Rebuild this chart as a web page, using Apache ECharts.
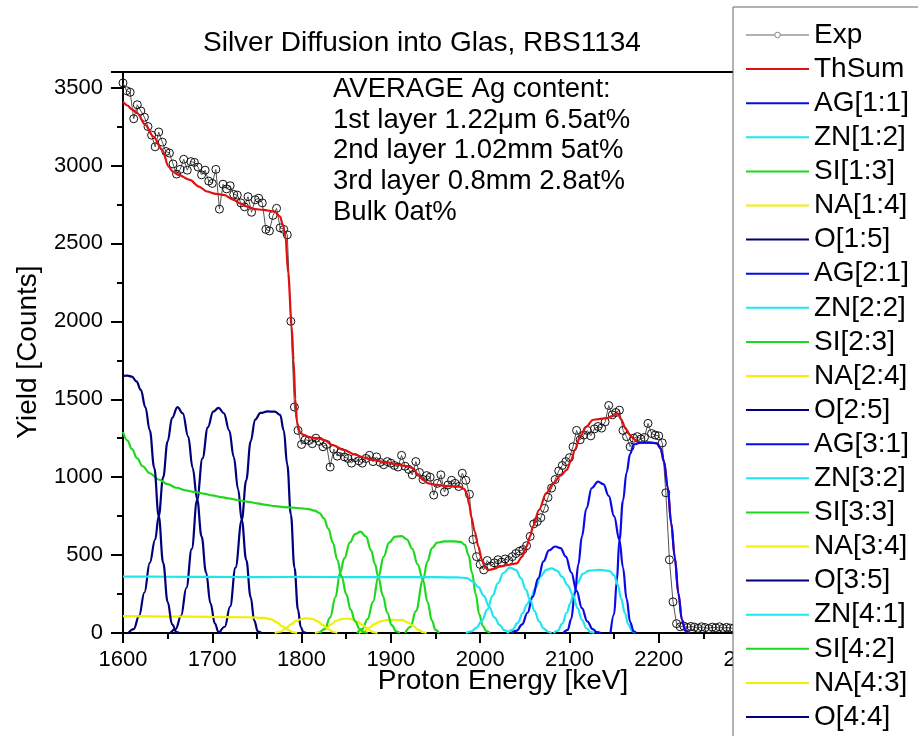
<!DOCTYPE html>
<html>
<head>
<meta charset="utf-8">
<script src="https://cdn.jsdelivr.net/npm/echarts@6/dist/echarts.min.js"></script>
<style>
html,body{margin:0;padding:0;background:#fff;}
#chart{width:918px;height:736px;}
</style>
</head>
<body>
<div id="chart"></div>
<script>
// ---------- DATA ----------
const xTicks = [1600, 1700, 1800, 1900, 2000, 2100, 2200, 2300];
const yTicks = [0, 500, 1000, 1500, 2000, 2500, 3000, 3500];

// Experimental spectrum: channel energies start at expStart keV, one channel every expStep keV
const expStart = 1600;
const expStep = 4;
const expCounts = [
  3530, 3480, 3470, 3300, 3390, 3350, 3310, 3250, 3195, 3120,
  3215, 3150, 3090, 3080, 3010, 2945, 2975, 3040, 2970, 3025,
  3020, 2990, 2940, 2970, 2900, 2885, 2975, 2720, 2880, 2850,
  2870, 2815, 2810, 2760, 2735, 2800, 2700, 2780, 2790, 2760,
  2590, 2580, 2680, 2725, 2600, 2590, 2555, 2000, 1450, 1300,
  1210, 1240, 1235, 1215, 1250, 1230, 1195, 1210, 1065, 1180,
  1135, 1160, 1130, 1120, 1090, 1125, 1105, 1090, 1120, 1140,
  1100, 1130, 1095, 1080, 1100, 1090, 1075, 1065, 1140, 1070,
  1050, 1015, 1100, 1030, 985, 1010, 1000, 885, 960, 1015,
  905, 950, 980, 960, 940, 1025, 980, 890, 600, 490,
  440, 405, 465, 430, 450, 470, 455, 475, 465, 490,
  510, 525, 535, 560, 620, 700, 715, 740, 800, 870,
  930, 985, 1040, 1075, 1100, 1125, 1195, 1300, 1240, 1270,
  1300, 1265, 1310, 1325, 1315, 1355, 1460, 1400, 1415, 1430,
  1300, 1260, 1195, 1250, 1260, 1245, 1255, 1345, 1280, 1270,
  1265, 1220, 900, 470, 200, 60, 40, 45, 35, 42,
  38, 30, 40, 35, 28, 38, 33, 40, 30, 36,
  32, 30
];

const thSum = [[1600,3410],[1605,3385],[1610,3360],[1616,3336],[1625,3260],[1634,3186],[1644,3100],[1651,2993],[1656,2960],[1662,2940],[1675,2908],[1685,2865],[1694,2833],[1704,2818],[1713,2811],[1724,2779],[1732,2755],[1739,2736],[1748,2720],[1757,2715],[1770,2704],[1776,2672],[1779,2620],[1782,2544],[1785,2309],[1789,1966],[1791,1752],[1793,1500],[1795,1350],[1798,1290],[1802,1271],[1810,1255],[1818,1250],[1825,1239],[1835,1205],[1847,1175],[1860,1145],[1870,1125],[1880,1110],[1895,1095],[1910,1078],[1918,1070],[1925,1057],[1930,1020],[1936,982],[1942,960],[1951,950],[1965,942],[1977,939],[1982,925],[1985,897],[1988,820],[1990,747],[1994,650],[1998,554],[2002,470],[2005,426],[2009,404],[2015,412],[2022,426],[2030,435],[2041,447],[2047,490],[2052,554],[2056,620],[2059,682],[2066,790],[2074,897],[2082,960],[2090,1010],[2097,1046],[2102,1110],[2106,1175],[2112,1260],[2119,1324],[2126,1367],[2133,1373],[2141,1378],[2148,1392],[2154,1410],[2158,1370],[2163,1310],[2168,1271],[2172,1245],[2176,1228],[2180,1222],[2190,1222],[2198,1217],[2202,1185],[2206,1100],[2210,935],[2214,705],[2218,485],[2222,255],[2226,85],[2230,15],[2235,2]];

// Layer 1 (surface)
const AG_1_1 = [[2146,0],[2150,120],[2153,330],[2156,597],[2160,850],[2164,1030],[2168,1150],[2172,1210],[2180,1222],[2190,1222],[2198,1217],[2202,1185],[2206,1100],[2210,935],[2214,705],[2218,485],[2222,255],[2226,85],[2230,15],[2234,0]];
const ZN_1_2 = [[2082,0],[2087,15],[2092,60],[2097,130],[2101,190],[2104,244],[2109,320],[2115,380],[2122,400],[2134,405],[2145,398],[2150,370],[2154,310],[2158,220],[2162,130],[2166,55],[2170,12],[2174,0]];
const SI_1_3 = [[1916,0],[1922,40],[1928,140],[1936,340],[1941,460],[1946,545],[1952,580],[1960,588],[1970,588],[1978,585],[1983,565],[1987,500],[1991,385],[1995,250],[1999,120],[2003,45],[2007,12],[2011,0]];
const NA_1_4 = [[1864,0],[1870,12],[1876,35],[1882,58],[1888,75],[1895,83],[1905,85],[1913,82],[1919,68],[1925,45],[1931,20],[1936,5],[1940,0]];
const O_1_5 = [[1708,0],[1714,40],[1720,170],[1726,420],[1733,725],[1738,980],[1743,1230],[1748,1370],[1754,1412],[1762,1422],[1770,1420],[1776,1400],[1780,1300],[1784,1080],[1788,760],[1792,420],[1796,150],[1799,40],[1802,5],[1805,0]];
// Layer 2
const AG_2_1 = [[2093,0],[2098,20],[2102,90],[2106,250],[2110,440],[2114,620],[2119,800],[2125,930],[2132,972],[2138,955],[2144,880],[2150,750],[2156,597],[2160,420],[2164,220],[2168,70],[2172,10],[2175,0]];
const ZN_2_2 = [[2030,0],[2036,20],[2042,65],[2048,130],[2052,180],[2056,212],[2062,290],[2068,365],[2074,405],[2080,415],[2086,400],[2092,360],[2098,305],[2104,244],[2109,160],[2114,85],[2119,30],[2124,5],[2128,0]];
const SI_2_3 = [[1862,0],[1868,25],[1874,90],[1880,200],[1886,360],[1892,490],[1898,580],[1905,618],[1912,622],[1918,600],[1924,540],[1930,440],[1936,340],[1941,200],[1946,80],[1950,20],[1954,0]];
const NA_2_4 = [[1815,0],[1821,8],[1827,28],[1833,55],[1839,78],[1845,90],[1851,93],[1857,88],[1863,72],[1869,48],[1875,22],[1880,6],[1885,0]];
const O_2_5 = [[1653,0],[1659,25],[1665,110],[1671,290],[1677,540],[1683,855],[1689,1120],[1695,1320],[1701,1420],[1707,1445],[1713,1410],[1719,1300],[1724,1130],[1729,920],[1733,725],[1738,470],[1743,230],[1747,80],[1751,10],[1755,0]];
// Layer 3
const AG_3_1 = [[2035,0],[2041,15],[2047,55],[2053,130],[2059,233],[2065,350],[2071,460],[2077,530],[2084,555],[2090,545],[2096,490],[2102,390],[2108,270],[2114,160],[2120,75],[2126,25],[2131,5],[2135,0]];
const ZN_3_2 = [[1984,0],[1990,10],[1996,35],[2002,80],[2008,150],[2014,240],[2020,320],[2026,385],[2033,420],[2040,405],[2046,350],[2051,280],[2056,212],[2061,140],[2066,75],[2071,30],[2076,8],[2080,0]];
const SI_3_3 = [[1820,0],[1826,25],[1832,100],[1838,230],[1843,385],[1848,480],[1854,580],[1860,635],[1866,650],[1872,620],[1878,530],[1882,445],[1886,360],[1891,240],[1896,130],[1901,50],[1906,10],[1910,0]];
const NA_3_4 = [[1770,0],[1776,8],[1782,28],[1788,55],[1794,78],[1800,90],[1806,94],[1812,90],[1818,75],[1824,50],[1830,25],[1835,8],[1840,0]];
const O_3_5 = [[1606,0],[1612,25],[1618,110],[1624,260],[1630,450],[1636,600],[1640,750],[1645,1000],[1650,1230],[1655,1380],[1661,1450],[1667,1410],[1673,1260],[1678,1060],[1683,860],[1688,620],[1693,390],[1698,190],[1703,60],[1707,5],[1710,0]];
// Layer 4 (bulk)
const ZN_4_1 = [[1600,362],[1650,361],[1700,360],[1750,359],[1800,360],[1850,359],[1900,358],[1950,358],[1975,357],[1985,352],[1992,330],[1998,295],[2004,240],[2010,170],[2016,100],[2022,50],[2027,18],[2032,0]];
const SI_4_2 = [[1600,1290],[1605,1235],[1610,1180],[1616,1120],[1622,1070],[1630,1025],[1640,985],[1650,955],[1660,932],[1670,915],[1680,905],[1690,895],[1700,883],[1710,872],[1720,862],[1730,852],[1740,842],[1750,832],[1760,822],[1770,814],[1780,808],[1790,804],[1800,800],[1808,795],[1815,785],[1820,770],[1825,735],[1830,670],[1835,580],[1840,470],[1845,360],[1850,250],[1855,150],[1860,75],[1865,25],[1870,5],[1874,0]];
const NA_4_3 = [[1600,108],[1650,106],[1700,104],[1740,101],[1758,97],[1766,88],[1772,70],[1778,45],[1784,22],[1790,6],[1795,0]];
const O_4_4 = [[1600,1650],[1605,1652],[1610,1645],[1615,1615],[1620,1560],[1625,1450],[1630,1300],[1635,1060],[1640,750],[1645,450],[1650,200],[1655,55],[1660,5],[1663,0]];

const titleText = 'Silver Diffusion into Glas, RBS1134';
const xTitle = 'Proton Energy [keV]';
const yTitle = 'Yield [Counts]';
const noteLines = ['AVERAGE Ag content:', '1st layer 1.22\u03bcm 6.5at%', '2nd layer 1.02mm 5at%', '3rd layer 0.8mm 2.8at%', 'Bulk 0at%'];

// ---------- STYLE ----------
const FONT = '"Liberation Sans", Arial, sans-serif';
const C = { AG: '#0a0ae6', ZN: '#1ee6f0', SI: '#1ed81e', NA: '#f0f000', O: '#00007a' };

const components = [
  ['AG[1:1]', AG_1_1, C.AG], ['ZN[1:2]', ZN_1_2, C.ZN], ['SI[1:3]', SI_1_3, C.SI], ['NA[1:4]', NA_1_4, C.NA], ['O[1:5]', O_1_5, C.O],
  ['AG[2:1]', AG_2_1, C.AG], ['ZN[2:2]', ZN_2_2, C.ZN], ['SI[2:3]', SI_2_3, C.SI], ['NA[2:4]', NA_2_4, C.NA], ['O[2:5]', O_2_5, C.O],
  ['AG[3:1]', AG_3_1, C.AG], ['ZN[3:2]', ZN_3_2, C.ZN], ['SI[3:3]', SI_3_3, C.SI], ['NA[3:4]', NA_3_4, C.NA], ['O[3:5]', O_3_5, C.O],
  ['ZN[4:1]', ZN_4_1, C.ZN], ['SI[4:2]', SI_4_2, C.SI], ['NA[4:3]', NA_4_3, C.NA], ['O[4:4]', O_4_4, C.O]
];

const expData = expCounts.map((v, i) => [expStart + i * expStep, v]);

const series = [
  {
    name: 'Exp', type: 'line', data: expData,
    symbol: 'circle', symbolSize: 8, showAllSymbol: true,
    itemStyle: { color: 'rgba(255,255,255,0)', borderColor: '#111', borderWidth: 1 },
    lineStyle: { color: '#555', width: 1 },
    z: 2
  },
  {
    name: 'ThSum', type: 'line', data: thSum, symbol: 'none',
    smooth: 0.3, smoothMonotone: 'x',
    lineStyle: { color: '#e01010', width: 2.2 }, itemStyle: { color: '#e01010' }, z: 3
  }
].concat(components.map(([name, d, col]) => ({
  name, type: 'line', data: d, symbol: 'none', smooth: 0.4, smoothMonotone: 'x',
  lineStyle: { color: col, width: 2.2 }, itemStyle: { color: col }, z: 4
})));

const legendData = series.map(s => s.name === 'Exp'
  ? { name: 'Exp', itemStyle: { opacity: 1, color: '#fff', borderColor: '#888', borderWidth: 1 }, lineStyle: { color: '#999', width: 1.5 } }
  : { name: s.name });

const chart = echarts.init(document.getElementById('chart'), null, { renderer: 'canvas' });
chart.setOption({
  animation: false,
  backgroundColor: '#fff',
  grid: { left: 123, right: 170, top: 72, bottom: 103, show: true, borderColor: '#000', borderWidth: 2, backgroundColor: 'transparent' },
  xAxis: {
    type: 'value', min: xTicks[0], max: xTicks[xTicks.length - 1], interval: 100,
    axisLine: { lineStyle: { color: '#000', width: 2 } },
    axisTick: { show: true, inside: false, length: 10, lineStyle: { color: '#000', width: 2 } },
    minorTick: { show: true, splitNumber: 2, length: 6, lineStyle: { color: '#000', width: 2 } },
    splitLine: { show: false },
    axisLabel: { color: '#000', fontSize: 22, fontFamily: FONT, margin: 16, formatter: v => String(v) }
  },
  yAxis: {
    type: 'value', min: yTicks[0], max: 3600, interval: 500,
    axisLine: { show: true, lineStyle: { color: '#000', width: 2 } },
    axisTick: { show: true, inside: false, length: 12, lineStyle: { color: '#000', width: 2 } },
    minorTick: { show: true, splitNumber: 2, length: 6, lineStyle: { color: '#000', width: 2 } },
    splitLine: { show: false },
    axisLabel: { color: '#000', fontSize: 22, fontFamily: FONT, margin: 20,
      formatter: v => (yTicks.indexOf(v) >= 0 ? String(v) : '') }
  },
  legend: {
    orient: 'vertical', left: 733, top: 7, height: 2000,
    padding: [14, 80, 60, 12],
    backgroundColor: '#fff', borderColor: '#666', borderWidth: 1,
    itemWidth: 63, itemHeight: 7, itemGap: 6.1,
    selectedMode: false,
    itemStyle: { opacity: 0 },
    data: legendData,
    textStyle: { color: '#000', fontSize: 28, fontFamily: FONT, lineHeight: 27 },
    z: 10
  },
  graphic: [
    { type: 'text', left: 203, top: 29, z: 20,
      style: { text: titleText, font: '28px ' + FONT, fill: '#000' } },
    { type: 'text', x: 503, y: 681, z: 20,
      style: { text: xTitle, font: '28px ' + FONT, fill: '#000', align: 'center', verticalAlign: 'middle' } },
    { type: 'text', x: 28, y: 352, rotation: Math.PI / 2, z: 20,
      style: { text: yTitle, font: '28px ' + FONT, fill: '#000', align: 'center', verticalAlign: 'middle' } },
    { type: 'text', left: 333, top: 74, z: 20,
      style: { text: noteLines.join('\n'), font: '27.5px ' + FONT, lineHeight: 30.75, fill: '#000' } }
  ],
  series
});
</script>
</body>
</html>
